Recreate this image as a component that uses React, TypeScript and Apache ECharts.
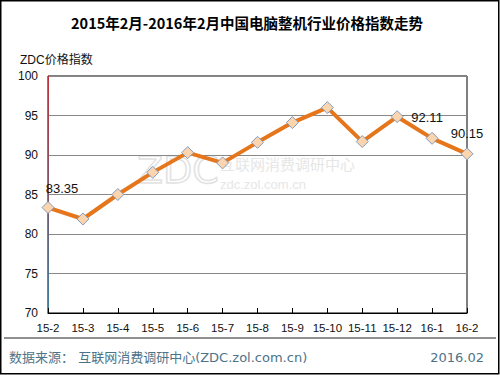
import React, { useEffect, useRef } from "react";
import * as echarts from "echarts";

const categories = ["15-2", "15-3", "15-4", "15-5", "15-6", "15-7", "15-8", "15-9", "15-10", "15-11", "15-12", "16-1", "16-2"];
const priceIndex = [83.35, 81.9, 85.0, 87.8, 90.3, 89.0, 91.6, 94.1, 96.0, 91.7, 94.85, 92.11, 90.15];
const labeledIdx = [0, 11, 12];
const labelOffsets: Record<number, number[]> = { 0: [14, -1], 11: [-5, -3], 12: [0, -2] };

const titleText = "2015年2月-2016年2月中国电脑整机行业价格指数走势";
const yAxisName = "ZDC价格指数";
const sourceText = "数据来源： 互联网消费调研中心(ZDC.zol.com.cn)";
const dateText = "2016.02";

const FONT = "'Liberation Sans', 'Noto Sans CJK SC', sans-serif";
const WIDE = "'DejaVu Sans', 'Noto Sans CJK SC', sans-serif";

export default function App() {
  const ref = useRef<HTMLDivElement>(null);
  useEffect(() => {
    if (!ref.current) return;
    const chart = echarts.init(ref.current, undefined, { renderer: "svg" });
    const data = priceIndex.map((v, i) =>
      labeledIdx.includes(i)
        ? {
            value: v,
            label: {
              show: true,
              position: "top",
              offset: labelOffsets[i],
              formatter: String(v),
              color: "#111",
              fontSize: 13,
              fontFamily: FONT,
            },
          }
        : v
    );
    chart.setOption({
      animation: false,
      backgroundColor: "#fff",
      textStyle: { fontFamily: FONT },
      grid: {
        left: 48,
        right: 33,
        top: 76,
        bottom: 62,
        show: true,
        borderColor: "#000",
        borderWidth: 1,
        backgroundColor: "transparent",
      },
      xAxis: {
        type: "category",
        data: categories,
        boundaryGap: false,
        axisLine: { lineStyle: { color: "#000", width: 1 } },
        axisTick: { show: true, inside: true, length: 5, lineStyle: { color: "#000" } },
        axisLabel: { color: "#111", fontSize: 11.5, margin: 9, fontFamily: FONT, interval: 0 },
        splitLine: { show: false },
      },
      yAxis: {
        type: "value",
        min: 70,
        max: 100,
        interval: 5,
        axisLine: {
          show: true,
          lineStyle: {
            width: 1,
            color: new echarts.graphic.LinearGradient(0, 76, 0, 313, [
              { offset: 0, color: "#c0303a" },
              { offset: 1, color: "#3a7fa0" },
            ], true),
          },
        },
        axisTick: { show: false },
        axisLabel: { color: "#111", fontSize: 12, margin: 10, fontFamily: FONT },
        splitLine: { lineStyle: { color: "#888", width: 1 } },
      },
      graphic: [
        {
          type: "rect",
          silent: true,
          shape: { x: 0.75, y: 0.75, width: 498, height: 373 },
          style: { fill: "none", stroke: "#000", lineWidth: 1.5 },
          z: 10,
        },
        {
          type: "text",
          x: 247,
          y: 22,
          style: {
            text: titleText,
            fontSize: 14.5,
            fontWeight: "bold",
            fill: "#000",
            align: "center",
            verticalAlign: "middle",
            fontFamily: "'Noto Sans CJK SC', sans-serif",
          },
        },
        {
          type: "text",
          x: 20,
          y: 60,
          style: {
            text: yAxisName,
            fontSize: 12,
            fill: "#111",
            align: "left",
            verticalAlign: "middle",
            fontFamily: FONT,
          },
        },
        {
          type: "line",
          silent: true,
          shape: { x1: 4, y1: 338, x2: 496, y2: 338 },
          style: { stroke: "#222", lineWidth: 1 },
        },
        {
          type: "text",
          x: 9,
          y: 357,
          style: {
            text: sourceText,
            fontSize: 13,
            fill: "#4d7388",
            align: "left",
            verticalAlign: "middle",
            fontFamily: WIDE,
          },
        },
        {
          type: "text",
          x: 484,
          y: 357,
          style: {
            text: dateText,
            fontSize: 13,
            fill: "#4d7388",
            align: "right",
            verticalAlign: "middle",
            fontFamily: WIDE,
          },
        },
        {
          type: "group",
          silent: true,
          z: -1,
          children: [
            {
              type: "text",
              x: 137,
              y: 170,
              style: {
                text: "ZDC",
                fontSize: 38,
                fill: "none",
                stroke: "#e2e2e2",
                lineWidth: 1.5,
                align: "left",
                verticalAlign: "middle",
                fontFamily: "'DejaVu Sans', sans-serif",
              },
            },
            {
              type: "text",
              x: 220,
              y: 163,
              style: {
                text: "互联网消费调研中心",
                fontSize: 15,
                fill: "#e6e6e6",
                align: "left",
                verticalAlign: "middle",
                fontFamily: "'Noto Sans CJK SC', sans-serif",
              },
            },
            {
              type: "text",
              x: 220,
              y: 184,
              style: {
                text: "zdc.zol.com.cn",
                fontSize: 13,
                fill: "#e6e6e6",
                align: "left",
                verticalAlign: "middle",
                fontFamily: FONT,
              },
            },
          ],
        },
      ],
      series: [
        {
          type: "line",
          data,
          symbol: "diamond",
          symbolSize: 12,
          lineStyle: { color: "#E5761B", width: 4 },
          itemStyle: { color: "#FCD5AE", borderColor: "#7F9CC0", borderWidth: 1 },
          label: { show: false },
          z: 5,
        },
      ],
    });
    return () => chart.dispose();
  }, []);
  return <div ref={ref} style={{ position: "absolute", left: 0, top: 0, width: 500, height: 375 }} />;
}
